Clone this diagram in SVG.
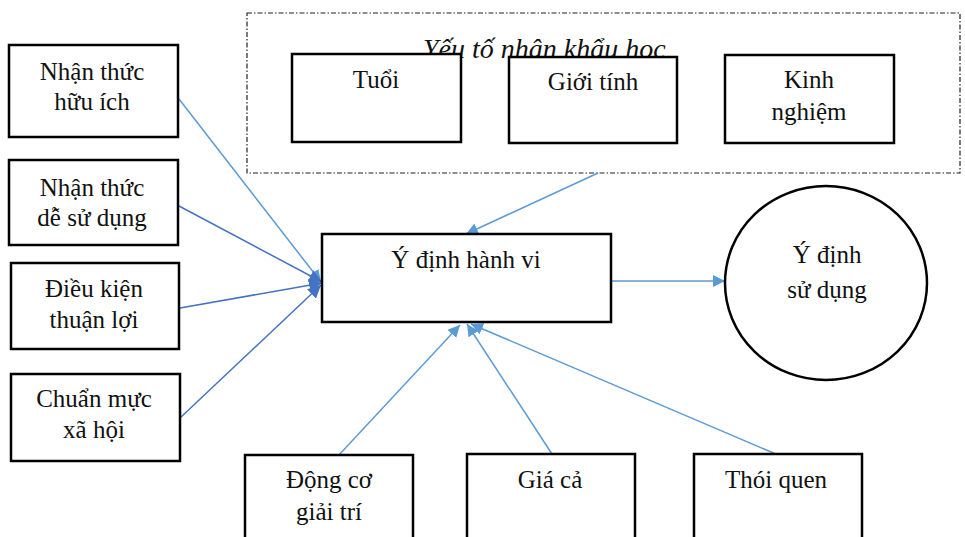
<svg xmlns="http://www.w3.org/2000/svg" width="965" height="537" viewBox="0 0 965 537">
  <defs>
    <style>
      .box { fill: #fff; stroke: #000; stroke-width: 2.5; }
      .lbl { font-family: "Liberation Serif", "Times New Roman", serif; font-size: 25px; fill: #111; text-anchor: middle; }
      .grp { font-family: "Liberation Serif", "Times New Roman", serif; font-size: 28px; font-style: italic; fill: #111; }
      .frame { fill: none; stroke: #222; stroke-width: 1.2; stroke-dasharray: 5 2 1.5 2; }
      .lt { stroke: #5B9BD5; stroke-width: 1.5; fill: none; marker-end: url(#ah-lt); }
      .dk { stroke: #4472C4; stroke-width: 1.5; fill: none; marker-end: url(#ah-dk); }
    </style>
    <marker id="ah-lt" viewBox="0 0 10 10" refX="10" refY="5" markerWidth="12" markerHeight="12" markerUnits="userSpaceOnUse" orient="auto">
      <path d="M0,0 L10,5 L0,10 z" fill="#5B9BD5"/>
    </marker>
    <marker id="ah-dk" viewBox="0 0 10 10" refX="10" refY="5" markerWidth="13" markerHeight="13" markerUnits="userSpaceOnUse" orient="auto">
      <path d="M0,0 L10,5 L0,10 z" fill="#4472C4"/>
    </marker>
  </defs>

  <rect width="965" height="537" fill="#fff"/>

  <!-- demographic factors group -->
  <g id="demographics">
    <rect class="frame" x="247" y="13" width="713" height="160"/>
    <text class="grp" x="423" y="58">Yếu tố nhân khẩu học</text>
  </g>

  <g id="tuoi">
    <rect class="box" x="292" y="54" width="169" height="88"/>
    <text class="lbl" x="376" y="88">Tuổi</text>
  </g>
  <g id="gioi-tinh">
    <rect class="box" x="509" y="57" width="168" height="86"/>
    <text class="lbl" x="593" y="90">Giới tính</text>
  </g>
  <g id="kinh-nghiem">
    <rect class="box" x="725" y="55" width="169" height="88"/>
    <text class="lbl" x="809" y="88">Kinh</text>
    <text class="lbl" x="809" y="120">nghiệm</text>
  </g>

  <!-- connectors -->
  <g id="connectors">
    <line class="lt" x1="179" y1="99" x2="321" y2="282"/>
    <line class="dk" x1="179" y1="206" x2="322" y2="282"/>
    <line class="dk" x1="180" y1="308" x2="322" y2="283"/>
    <line class="dk" x1="180" y1="418" x2="321" y2="285"/>
    <line class="lt" x1="598" y1="173" x2="466" y2="234"/>
    <line class="lt" x1="611" y1="281" x2="725" y2="281"/>
    <line class="lt" x1="338" y1="456" x2="460" y2="325"/>
    <line class="lt" x1="552" y1="454" x2="467" y2="324"/>
    <line class="lt" x1="778" y1="455" x2="471" y2="324"/>
  </g>

  <!-- left-hand predictors -->
  <g id="nhan-thuc-huu-ich">
    <rect class="box" x="9" y="45" width="169" height="92"/>
    <text class="lbl" x="92" y="80">Nhận thức</text>
    <text class="lbl" x="92" y="110">hữu ích</text>
  </g>
  <g id="nhan-thuc-de-su-dung">
    <rect class="box" x="9" y="160" width="169" height="85"/>
    <text class="lbl" x="92" y="196">Nhận thức</text>
    <text class="lbl" x="92" y="226">dễ sử dụng</text>
  </g>
  <g id="dieu-kien-thuan-loi">
    <rect class="box" x="11" y="263" width="168" height="86"/>
    <text class="lbl" x="94" y="297">Điều kiện</text>
    <text class="lbl" x="94" y="328">thuận lợi</text>
  </g>
  <g id="chuan-muc-xa-hoi">
    <rect class="box" x="11" y="374" width="169" height="87"/>
    <text class="lbl" x="94" y="407">Chuẩn mực</text>
    <text class="lbl" x="94" y="438">xã hội</text>
  </g>

  <!-- central construct -->
  <g id="y-dinh-hanh-vi">
    <rect class="box" x="322" y="234" width="289" height="88"/>
    <text class="lbl" x="466" y="268">Ý định hành vi</text>
  </g>

  <!-- outcome -->
  <g id="y-dinh-su-dung">
    <ellipse class="box" cx="826" cy="283" rx="101" ry="97"/>
    <text class="lbl" x="827" y="263">Ý định</text>
    <text class="lbl" x="827" y="298">sử dụng</text>
  </g>

  <!-- bottom predictors -->
  <g id="dong-co-giai-tri">
    <rect class="box" x="245" y="455" width="168" height="100"/>
    <text class="lbl" x="329" y="488">Động cơ</text>
    <text class="lbl" x="329" y="520">giải trí</text>
  </g>
  <g id="gia-ca">
    <rect class="box" x="467" y="454" width="168" height="100"/>
    <text class="lbl" x="550" y="488">Giá cả</text>
  </g>
  <g id="thoi-quen">
    <rect class="box" x="694" y="454" width="168" height="100"/>
    <text class="lbl" x="776" y="488">Thói quen</text>
  </g>
</svg>
